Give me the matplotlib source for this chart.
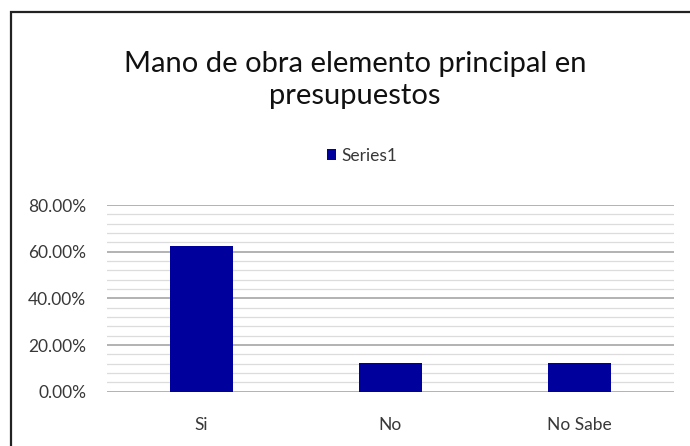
import matplotlib.pyplot as plt
from matplotlib.patches import Rectangle
from matplotlib.ticker import MultipleLocator, PercentFormatter

categories = ["Si", "No", "No Sabe"]
values = [0.625, 0.125, 0.125]
series_name = "Series1"
title = "Mano de obra elemento principal en\npresupuestos"

plt.rcParams['font.family'] = ['Lato', 'DejaVu Sans']

fig = plt.figure(figsize=(6.9, 4.46), dpi=100)
ax = fig.add_axes([107 / 690, 54.3 / 446, 567 / 690, 186.7 / 446])

# chart frame
fig.patches.append(Rectangle((11 / 690, -0.1), 1.2, (446 - 12) / 446 + 0.1,
                             transform=fig.transFigure, fill=False,
                             edgecolor='#222222', linewidth=1.6))

x = range(len(categories))
bars = ax.bar(x, values, width=1 / 3, color='#00009c', label=series_name, zorder=3)

ax.set_xlim(-0.5, len(categories) - 0.5)
ax.set_ylim(0, 0.8)
ax.yaxis.set_major_locator(MultipleLocator(0.2))
ax.yaxis.set_minor_locator(MultipleLocator(0.04))
ax.yaxis.set_major_formatter(PercentFormatter(1.0, decimals=2))
ax.grid(axis='y', which='major', color='#a6a6a6', linewidth=1.2, zorder=0)
ax.grid(axis='y', which='minor', color='#dcdcdc', linewidth=0.9, zorder=0)
ax.set_xticks(list(x))
ax.set_xticklabels(categories)
for s in ax.spines.values():
    s.set_visible(False)
ax.tick_params(axis='both', which='both', length=0, labelsize=12.5, colors='#383838')
ax.tick_params(axis='y', pad=15)
ax.tick_params(axis='x', pad=18)

fig.text(355 / 690, 1 - 80 / 446, title, ha='center', va='center',
         fontsize=21, color='#111111', linespacing=1.3)
fig.legend(handles=[bars], labels=[series_name], loc='center',
           bbox_to_anchor=(362 / 690, 1 - 156 / 446), frameon=False,
           fontsize=12.5, handlelength=0.5, handleheight=0.6, handletextpad=0.3,
           labelcolor='#383838')

fig.savefig('out.png', dpi=100)
